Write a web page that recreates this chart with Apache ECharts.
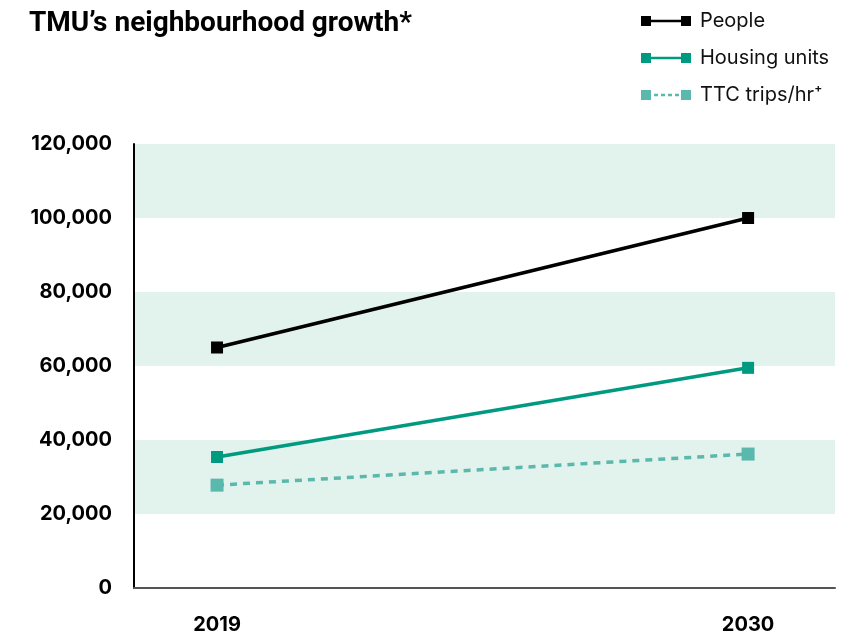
<!DOCTYPE html>
<html>
<head>
<meta charset="utf-8">
<script src="https://cdn.jsdelivr.net/npm/echarts@6/dist/echarts.min.js"></script>
<style>
  html, body { margin: 0; padding: 0; background: #fff; }
  #chart { width: 865px; height: 638px; }
</style>
</head>
<body>
<div id="chart"></div>
<script>
// years on the x axis
const years = [2019, 2030]
// series values
const people = [65000, 100000]
const housingUnits = [35400, 59500]
const ttcTrips = [27800, 36200]

const seriesNames = ['People', 'Housing units', 'TTC trips/hr\u207A']
const colors = ['#000000', '#009a80', '#5ab8ad']

// legend icons: square - line - square
const solidIcon = 'path://M0,0H10V10H0Z M10,3.8H40V6.2H10Z M40,0H50V10H40Z'
const dashedIcon = 'path://M0,0H10V10H0Z M13,3.8H17V6.2H13Z M20,3.8H24V6.2H20Z M27,3.8H31V6.2H27Z M34,3.8H38V6.2H34Z M40,0H50V10H40Z'

const toPairs = vals => years.map((y, i) => [y, vals[i]])

const chart = echarts.init(document.getElementById('chart'))

const lineSeries = (name, vals, color, dashed) => ({
  name,
  type: 'line',
  data: toPairs(vals),
  symbol: 'rect',
  symbolSize: dashed ? 13 : 12,
  color,
  lineStyle: { color, width: 3.5, type: dashed ? [7, 6] : 'solid' },
  itemStyle: { color },
  z: dashed ? 2 : 3
})

chart.setOption({
  animation: false,
  title: {
    text: 'TMU\u2019s neighbourhood growth*',
    left: 24,
    top: 5,
    textStyle: {
      fontFamily: 'Roboto, sans-serif',
      fontWeight: 'bold',
      fontSize: 28,
      color: '#000'
    }
  },
  legend: {
    orient: 'vertical',
    left: 636,
    top: 6,
    itemWidth: 50,
    itemHeight: 10,
    itemGap: 17,
    textStyle: {
      fontFamily: 'Inter, "Liberation Sans", sans-serif',
      fontSize: 20,
      color: '#111',
      padding: [0, 0, 0, 4]
    },
    data: [
      { name: seriesNames[0], icon: solidIcon },
      { name: seriesNames[1], icon: solidIcon },
      { name: seriesNames[2], icon: dashedIcon }
    ]
  },
  grid: { left: 134, right: 30, top: 144, bottom: 50 },
  xAxis: {
    type: 'value',
    min: 2017.28,
    max: 2031.8,
    axisLine: { show: true, lineStyle: { color: '#555', width: 2 } },
    axisTick: { show: false },
    splitLine: { show: false },
    axisLabel: {
      customValues: years,
      margin: 27,
      fontFamily: 'Inter, "Liberation Sans", sans-serif',
      fontWeight: 'bold',
      fontSize: 20,
      color: '#000',
      formatter: v => String(v)
    }
  },
  yAxis: {
    type: 'value',
    min: 0,
    max: 120000,
    interval: 20000,
    axisLine: { show: true, lineStyle: { color: '#000', width: 2 } },
    axisTick: { show: false },
    splitLine: { show: false },
    splitArea: { show: true, areaStyle: { color: ['#ffffff', '#e2f2ec'] } },
    axisLabel: {
      margin: 22,
      fontFamily: 'Inter, "Liberation Sans", sans-serif',
      fontWeight: 'bold',
      fontSize: 20,
      color: '#000',
      formatter: v => v.toLocaleString('en-US')
    }
  },
  series: [
    lineSeries(seriesNames[0], people, colors[0], false),
    lineSeries(seriesNames[1], housingUnits, colors[1], false),
    lineSeries(seriesNames[2], ttcTrips, colors[2], true)
  ]
})

window.addEventListener('resize', () => chart.resize())
</script>
</body>
</html>
